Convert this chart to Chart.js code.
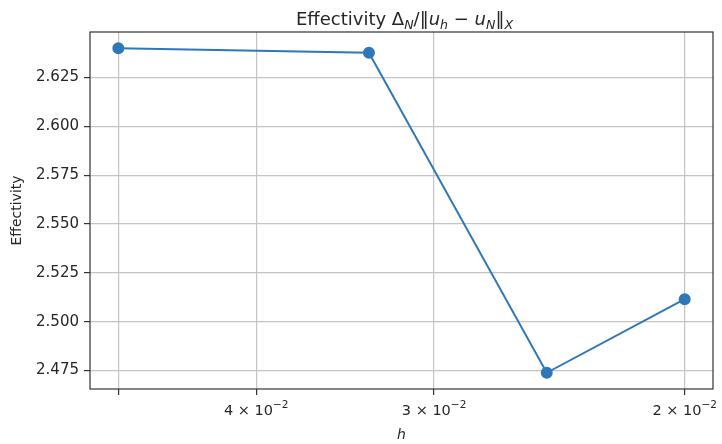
<!DOCTYPE html>
<html>
<head>
<meta charset="utf-8">
<script src="https://cdn.jsdelivr.net/npm/chart.js@4"></script>
<style>
html, body { margin: 0; padding: 0; background: #fff; }
</style>
</head>
<body>
<canvas id="chart" width="722" height="444"></canvas>
<script>
// values
var h_values = [0.05, 1 / 30, 0.025, 0.02];
var effectivity = [2.640, 2.6377, 2.4738, 2.5115];
var x_tick_values = [0.05, 0.04, 0.03, 0.02];
var x_tick_mantissa = ['', '4', '3', '2'];
var x_tick_exponent = '\u22122';
var y_tick_values = [2.475, 2.500, 2.525, 2.550, 2.575, 2.600, 2.625];

var FONT = "'DejaVu Sans', sans-serif";
var TEXT = '#262626';

// matplotlib style 5% margins (x in log space)
function xLimits() {
    var lo = Math.log10(Math.min.apply(null, h_values));
    var hi = Math.log10(Math.max.apply(null, h_values));
    var m = (hi - lo) * 0.05;
    return [Math.pow(10, lo - m), Math.pow(10, hi + m)];
}
function yLimits() {
    var lo = Math.min.apply(null, effectivity);
    var hi = Math.max.apply(null, effectivity);
    var m = (hi - lo) * 0.05;
    return [lo - m, hi + m];
}

var points = [];
for (var i = 0; i < h_values.length; i++) {
    points.push({x: h_values[i], y: effectivity[i]});
}

// draw a row of text pieces centred on cx: [text, style, size, dy]
function drawPieces(ctx, parts, cx, y) {
    var total = 0;
    parts.forEach(function(p) {
        ctx.font = p[1] + p[2] + 'px ' + FONT;
        p[4] = ctx.measureText(p[0]).width;
        total += p[4];
    });
    var x = cx - total / 2;
    parts.forEach(function(p) {
        ctx.font = p[1] + p[2] + 'px ' + FONT;
        ctx.fillText(p[0], x, y + p[3]);
        x += p[4];
    });
}

// title with sub-scripts
var titlePlugin = {
    id: 'mathTitle',
    afterDraw: function(chart) {
        var ctx = chart.ctx;
        var size = 18, sub = 12.6;
        var parts = [
            ['Effectivity \u0394', '', size, 0],
            ['N', 'italic ', sub, 4],
            ['/\u2016', '', size, 0],
            ['u', 'italic ', size, 0],
            ['h', 'italic ', sub, 4],
            [' \u2212 ', '', size, 0],
            ['u', 'italic ', size, 0],
            ['N', 'italic ', sub, 4],
            ['\u2016', '', size, 0],
            ['X', 'italic ', sub, 4]
        ];
        var area = chart.chartArea;
        ctx.save();
        ctx.fillStyle = TEXT;
        ctx.textBaseline = 'alphabetic';
        ctx.textAlign = 'left';
        drawPieces(ctx, parts, (area.left + area.right) / 2 + 3, 25);
        ctx.restore();
    }
};

// x tick labels like 4 x 10^-2, placed through the x scale
var xLabelPlugin = {
    id: 'xLabels',
    afterDraw: function(chart) {
        var ctx = chart.ctx;
        var scale = chart.scales.x;
        ctx.save();
        ctx.fillStyle = TEXT;
        ctx.textBaseline = 'alphabetic';
        ctx.textAlign = 'left';
        for (var k = 0; k < x_tick_values.length; k++) {
            if (!x_tick_mantissa[k]) continue;
            var px = scale.getPixelForValue(x_tick_values[k]);
            drawPieces(ctx, [
                [x_tick_mantissa[k] + ' \u00d7 10', '', 14.5, 0],
                [x_tick_exponent, '', 10.5, -7]
            ], px, 415);
        }
        ctx.restore();
    }
};

// frame round the axes
var framePlugin = {
    id: 'frame',
    afterDatasetsDraw: function(chart) {
        var a = chart.chartArea;
        var ctx = chart.ctx;
        ctx.save();
        ctx.strokeStyle = '#333';
        ctx.lineWidth = 1.2;
        ctx.strokeRect(a.left, a.top, a.right - a.left, a.bottom - a.top);
        ctx.restore();
    }
};

var xl = xLimits(), yl = yLimits();

var chart = new Chart(document.getElementById('chart'), {
    type: 'line',
    data: {
        datasets: [{
            data: points,
            borderColor: '#2f78b8',
            backgroundColor: '#2f78b8',
            borderWidth: 2,
            pointRadius: 5,
            pointHoverRadius: 5,
            tension: 0
        }]
    },
    options: {
        responsive: false,
        animation: false,
        devicePixelRatio: 1,
        layout: {padding: {top: 32, right: 9, left: 0, bottom: 0}},
        plugins: {legend: {display: false}, tooltip: {enabled: false}},
        scales: {
            x: {
                type: 'logarithmic',
                reverse: true,
                min: xl[0],
                max: xl[1],
                afterBuildTicks: function(scale) {
                    scale.ticks = x_tick_values.map(function(v) { return {value: v}; });
                },
                afterFit: function(scale) { scale.height = 55; },
                ticks: {
                    autoSkip: false,
                    maxRotation: 0,
                    padding: 4,
                    color: TEXT,
                    font: {family: FONT, size: 15},
                    callback: function() { return ''; }
                },
                grid: {color: '#c4c4c4', lineWidth: 1.2, tickColor: '#333', tickLength: 6},
                border: {display: false},
                title: {display: true, text: 'h', color: TEXT,
                        font: {family: FONT, size: 14, style: 'italic'}, padding: {top: 0, bottom: 0}}
            },
            y: {
                min: yl[0],
                max: yl[1],
                afterBuildTicks: function(scale) {
                    scale.ticks = y_tick_values.map(function(v) { return {value: v}; });
                },
                afterFit: function(scale) { scale.width = 90; },
                ticks: {
                    padding: 5,
                    color: TEXT,
                    font: {family: FONT, size: 15},
                    callback: function(value) { return value.toFixed(3); }
                },
                grid: {color: '#c4c4c4', lineWidth: 1.2, tickColor: '#333', tickLength: 6},
                border: {display: false},
                title: {display: true, text: 'Effectivity', color: TEXT,
                        font: {family: FONT, size: 14}, padding: {top: 9, bottom: 0}}
            }
        }
    },
    plugins: [titlePlugin, xLabelPlugin, framePlugin]
});
</script>
</body>
</html>
